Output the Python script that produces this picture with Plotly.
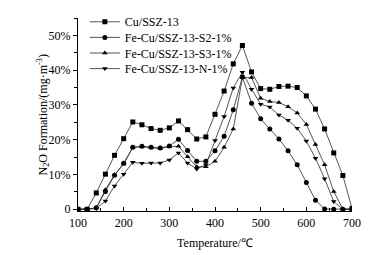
import plotly.graph_objects as go

temps = [100, 120, 140, 160, 180, 200, 220, 240, 260, 280, 300, 320, 340, 360, 380,
         400, 420, 440, 460, 480, 500, 520, 540, 560, 580, 600, 620, 640, 660, 680, 700]

cu_ssz13 = [0, 0, 4.7, 10.1, 15.5, 20.3, 25.1, 24.3, 23.2, 22.7, 23.4, 25.4, 22.9, 20.2, 20.8,
            27.3, 34.0, 41.8, 47.1, 39.5, 34.7, 34.5, 35.3, 35.4, 35.0, 32.6, 28.8, 23.1, 16.2, 9.7, 0.2]
fe_s2 = [0, 0, 0.4, 5.1, 9.8, 13.2, 17.8, 18.1, 17.8, 17.6, 18.2, 20.1, 16.9, 13.8, 13.8,
         16.8, 21.0, 28.6, 38.0, 30.5, 26.0, 23.1, 20.2, 16.8, 12.8, 7.7, 2.6, 0.1, 0, 0, 0]
fe_s3 = [0, 0, 0.4, 5.6, 9.9, 13.0, 17.8, 18.0, 17.7, 17.5, 18.0, 18.1, 15.1, 12.2, 12.2,
         13.8, 17.8, 23.1, 37.8, 37.9, 31.9, 31.0, 30.7, 29.5, 27.7, 24.4, 18.6, 12.8, 5.1, 0.1, 0]
fe_n = [0, 0, 0.2, 2.4, 6.7, 10.1, 13.5, 13.2, 13.3, 13.3, 14.2, 16.2, 13.3, 11.6, 12.8,
        19.8, 26.7, 34.9, 39.4, 34.5, 30.2, 29.4, 27.1, 25.6, 23.3, 19.6, 14.7, 8.8, 2.2, 0, 0]

series_names = ["Cu/SSZ-13", "Fe-Cu/SSZ-13-S2-1%", "Fe-Cu/SSZ-13-S3-1%", "Fe-Cu/SSZ-13-N-1%"]
series_values = [cu_ssz13, fe_s2, fe_s3, fe_n]
symbols = ["square", "circle", "triangle-up", "triangle-down"]

y_tickvals = [0, 10, 20, 30, 40, 50]
y_ticktext = ["0", "10%", "20%", "30%", "40%", "50%"]
x_tickvals = [100, 200, 300, 400, 500, 600, 700]

FONT = "Liberation Serif, Times New Roman, serif"

# plot area geometry (px)
W, H = 387, 255
ML, MR, MT, MB = 78, 35, 7, 44
PLOT_H = H - MT - MB
legend_rows_px = [11, 27.5, 44, 60.5]
legend_ids = ["legend", "legend2", "legend3", "legend4"]

fig = go.Figure()
for name, vals, sym, lid in zip(series_names, series_values, symbols, legend_ids):
    fig.add_trace(go.Scatter(
        x=temps, y=vals, name=name, mode="lines+markers", legend=lid,
        line=dict(color="#2a2a2a", width=0.8),
        marker=dict(symbol=sym, size=5, color="black", line=dict(width=0)),
    ))

legend_common = dict(x=0.025, xanchor="left", yanchor="middle",
                     bgcolor="rgba(0,0,0,0)",
                     font=dict(family=FONT, size=12, color="black"),
                     itemwidth=30)
layout_legends = {}
for lid, py in zip(legend_ids, legend_rows_px):
    layout_legends[lid] = dict(legend_common, y=1 - (py - MT) / PLOT_H)

fig.update_layout(
    template="none",
    width=W, height=H,
    margin=dict(l=ML, r=MR, t=MT, b=MB),
    paper_bgcolor="white", plot_bgcolor="white",
    font=dict(family=FONT, size=12, color="black"),
    showlegend=True,
    **layout_legends,
    xaxis=dict(
        range=[100, 700], tickvals=x_tickvals, ticks="inside", ticklen=4,
        tickwidth=1, tickcolor="black", showline=True, linecolor="black",
        linewidth=1.3, showgrid=False, zeroline=False, automargin=False,
        minor=dict(ticks="inside", ticklen=2.5, dtick=50, tickcolor="black", showgrid=False),
        title=dict(text="Temperature/℃", font=dict(family=FONT, size=12), standoff=10),
        tickfont=dict(family=FONT, size=12),
    ),
    yaxis=dict(
        range=[-0.5, 55], tickvals=y_tickvals, ticktext=y_ticktext, ticks="outside",
        ticklen=4, tickwidth=1, tickcolor="black", showline=True, linecolor="black",
        linewidth=1.3, showgrid=False, zeroline=False, automargin=False,
        minor=dict(ticks="outside", ticklen=3, dtick=5, tickcolor="black", showgrid=False),
        tickfont=dict(family=FONT, size=12),
    ),
    annotations=[dict(
        text="N<sub>2</sub>O Formation/(mg·m<sup>-3</sup>)",
        xref="paper", yref="paper", x=0, y=0.5, xshift=-(ML - 43),
        xanchor="center", yanchor="middle", textangle=-90, showarrow=False,
        font=dict(family=FONT, size=12, color="black"),
    )],
)

fig.write_html("out.html", config={"displayModeBar": False},
               post_script="document.body.style.margin='0px';")
